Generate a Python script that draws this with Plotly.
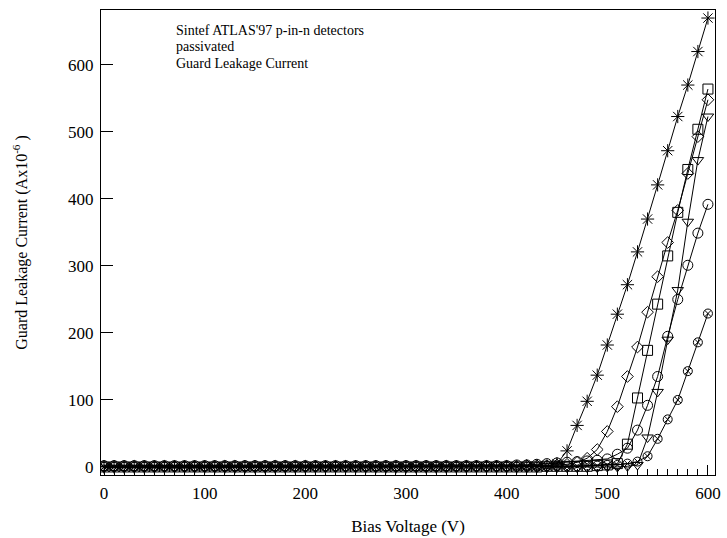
import plotly.graph_objects as go

voltage = [0, 10, 20, 30, 40, 50, 60, 70, 80, 90, 100, 110, 120, 130, 140, 150, 160, 170, 180, 190,
           200, 210, 220, 230, 240, 250, 260, 270, 280, 290, 300, 310, 320, 330, 340, 350, 360, 370, 380, 390,
           400, 410, 420, 430, 440, 450, 460, 470, 480, 490, 500, 510, 520, 530, 540, 550, 560, 570, 580, 590, 600]

star = [0, 0, 0, 0, 0, 0, 0, 0, 0, 0, 0, 0, 0, 0, 0, 0, 0, 0, 0, 0,
        0, 0, 0, 0, 0, 0, 0, 0, 0, 0, 0, 0, 0, 0, 0, 0, 0, 0, 0, 0,
        0, 0, 1, 1, 1, 5, 24, 62, 98, 137, 182, 228, 272, 321, 370, 421, 472, 523, 570, 620, 670]
diamond = [1, 1, 1, 1, 1, 1, 1, 1, 1, 1, 1, 1, 1, 1, 1, 1, 1, 1, 1, 1,
           1, 1, 1, 1, 1, 1, 1, 1, 1, 1, 1, 1, 1, 1, 1, 1, 1, 1, 1, 1,
           1, 1, 2, 2, 2, 3, 4, 7, 13, 26, 53, 90, 135, 179, 231, 284, 335, 383, 438, 493, 548]
square = [0, 0, 0, 0, 0, 0, 0, 0, 0, 0, 0, 0, 0, 0, 0, 0, 0, 0, 0, 0,
          0, 0, 0, 0, 0, 0, 0, 0, 0, 0, 0, 0, 0, 0, 0, 0, 0, 0, 0, 0,
          0, 0, 0, 0, 1, 1, 1, 1, 1, 2, 3, 5, 34, 103, 174, 243, 315, 380, 444, 504, 564]
triangle = [-1, -1, -1, -1, -1, -1, -1, -1, -1, -1, -1, -1, -1, -1, -1, -1, -1, -1, -1, -1,
            -1, -1, -1, -1, -1, -1, -1, -1, -1, -1, -1, -1, -1, -1, -1, -1, -1, -1, -1, -1,
            -1, -1, -1, -1, -1, -1, -1, -1, -1, -1, 0, 0, 1, 3, 44, 112, 190, 264, 366, 458, 523]
circle = [2, 2, 2, 2, 2, 2, 2, 2, 2, 2, 2, 2, 2, 2, 2, 2, 2, 2, 2, 2,
          2, 2, 2, 2, 2, 2, 2, 2, 2, 2, 2, 2, 2, 2, 2, 2, 2, 2, 2, 2,
          2, 3, 3, 4, 5, 6, 7, 8, 9, 10, 12, 19, 28, 55, 92, 135, 195, 250, 301, 349, 392]
circlex = [0, 0, 0, 0, 0, 0, 0, 0, 0, 0, 0, 0, 0, 0, 0, 0, 0, 0, 0, 0,
           0, 0, 0, 0, 0, 0, 0, 0, 0, 0, 0, 0, 0, 0, 0, 0, 0, 0, 0, 0,
           0, 0, 0, 0, 1, 1, 1, 1, 2, 2, 3, 3, 5, 8, 16, 42, 71, 100, 143, 186, 229]

series = [
    ("star", star, "asterisk-open", 11),
    ("diamond", diamond, "diamond-open", 9),
    ("square", square, "square-open", 10),
    ("triangle", triangle, "triangle-down-open", 10),
    ("circle", circle, "circle-open", 10),
    ("circlex", circlex, "circle-x-open", 9),
]

x_ticks = [0, 100, 200, 300, 400, 500, 600]
y_ticks = [0, 100, 200, 300, 400, 500, 600]

FONT = "Liberation Serif, Times New Roman, serif"

fig = go.Figure()
for name, vals, sym, size in series:
    fig.add_trace(go.Scatter(
        x=voltage, y=vals, mode="lines+markers", name=name,
        line=dict(color="black", width=1),
        marker=dict(symbol=sym, size=size, color="black", line=dict(color="black", width=1)),
        showlegend=False,
    ))

fig.update_layout(
    width=727, height=538,
    margin=dict(l=101, r=6, t=10, b=63),
    paper_bgcolor="white", plot_bgcolor="white",
    font=dict(family=FONT, color="black", size=15),
)
fig.update_xaxes(
    range=[-3, 607], tickvals=x_ticks, ticktext=[str(v) for v in x_ticks],
    ticks="inside", ticklen=10, tickwidth=1, tickcolor="black",
    minor=dict(dtick=10, ticks="inside", ticklen=6, tickcolor="black", tickwidth=1),
    showline=True, linecolor="black", linewidth=1, mirror=True,
    showgrid=False, zeroline=False,
    tickfont=dict(size=17, family=FONT), ticklabelstandoff=3,
    title=dict(text="Bias Voltage (V)", font=dict(size=17, family=FONT), standoff=17),
)
fig.update_yaxes(
    range=[-12, 682], tickvals=y_ticks, ticktext=[str(v) for v in y_ticks],
    ticks="inside", ticklen=12, tickwidth=1, tickcolor="black",
    showline=True, linecolor="black", linewidth=1, mirror=True,
    showgrid=False, zeroline=False,
    tickfont=dict(size=17, family=FONT), ticklabelstandoff=3,
    title=dict(text="Guard Leakage Current (Ax10<sup>-6</sup> )", font=dict(size=16, family=FONT), standoff=36),
)

notes = ["Sintef ATLAS'97 p-in-n detectors", "passivated", "Guard Leakage Current"]
for i, t in enumerate(notes):
    fig.add_annotation(
        text=t, xref="paper", yref="paper", x=0.119, y=0.955 - i * 0.0345,
        xanchor="left", yanchor="middle", showarrow=False,
        font=dict(size=14, family=FONT, color="black"),
    )

fig.write_html("out.html")
